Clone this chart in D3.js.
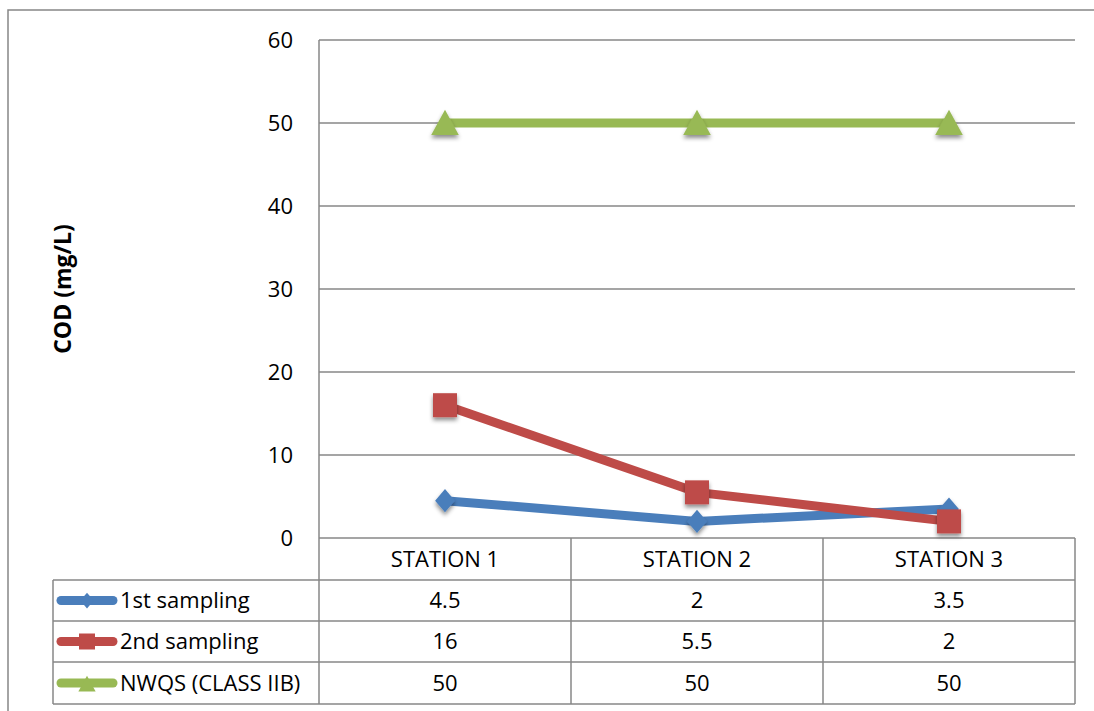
<!DOCTYPE html>
<html>
<head>
<meta charset="utf-8">
<script src="https://cdn.jsdelivr.net/npm/d3@7"></script>
<style>
  html, body { margin: 0; padding: 0; background: #fff; }
  svg { display: block; }
  text { font-family: "Open Sans", "Noto Sans", sans-serif; fill: #000; }
</style>
</head>
<body>
<svg id="chart" width="1094" height="711"></svg>
<script>
// ---- data ----
const categories = ["STATION 1", "STATION 2", "STATION 3"];
const seriesNames = ["1st sampling", "2nd sampling", "NWQS (CLASS IIB)"];
const firstSampling = [4.5, 2, 3.5];
const secondSampling = [16, 5.5, 2];
const nwqs = [50, 50, 50];
const yTicks = [0, 10, 20, 30, 40, 50, 60];
const valueLabels = [["4.5", "2", "3.5"], ["16", "5.5", "2"], ["50", "50", "50"]];

const seriesValues = [firstSampling, secondSampling, nwqs];
const colors = ["#4A7EBB", "#BE4B48", "#98B954"];
const shapes = ["diamond", "square", "triangle"];

// ---- layout ----
const svg = d3.select("#chart");
const plotLeft = 319, plotRight = 1075, plotTop = 40, plotBottom = 538;
const tableLeft = 53;
const rowEdges = [538, 580, 621, 662, 704];
const gridColor = "#878787";

const defs = svg.append("defs");
const f = defs.append("filter").attr("id", "shadow")
  .attr("x", "-50%").attr("y", "-50%").attr("width", "200%").attr("height", "200%");
f.append("feDropShadow").attr("dx", 0).attr("dy", 3).attr("stdDeviation", 2)
  .attr("flood-color", "#000").attr("flood-opacity", 0.45);

// outer border
svg.append("rect").attr("x", 8).attr("y", 10).attr("width", 1300).attr("height", 900)
  .attr("fill", "none").attr("stroke", gridColor).attr("stroke-width", 1.5);

const x = d3.scaleBand().domain(categories).range([plotLeft, plotRight]).padding(0);
const y = d3.scaleLinear().domain([0, 60]).range([plotBottom, plotTop]);

// gridlines
svg.append("g").selectAll("line").data(yTicks.filter(t => t > 0)).join("line")
  .attr("x1", plotLeft).attr("x2", plotRight)
  .attr("y1", d => y(d)).attr("y2", d => y(d))
  .attr("stroke", gridColor).attr("stroke-width", 1.5);

// y axis (labels only)
const yAxis = d3.axisLeft(y).tickValues(yTicks).tickSize(0).tickPadding(26);
const yg = svg.append("g").attr("transform", `translate(${plotLeft},0)`).call(yAxis);
yg.select(".domain").remove();
yg.selectAll("text").attr("font-size", 22).attr("font-family", '"Open Sans", sans-serif').attr("fill", "#000");

// y axis title
svg.append("text")
  .attr("transform", `translate(71, ${(plotTop + plotBottom) / 2}) rotate(-90)`)
  .attr("text-anchor", "middle")
  .attr("font-size", 23).attr("font-weight", "bold")
  .text("COD (mg/L)");

// ---- data table ----
const tbl = svg.append("g").attr("stroke", gridColor).attr("stroke-width", 1.5);
rowEdges.forEach((ry, i) => {
  tbl.append("line").attr("x1", i === 0 ? plotLeft : tableLeft).attr("x2", plotRight)
    .attr("y1", ry).attr("y2", ry);
});
tbl.append("line").attr("x1", tableLeft).attr("x2", tableLeft).attr("y1", rowEdges[1]).attr("y2", rowEdges[4]);
tbl.append("line").attr("x1", plotLeft).attr("x2", plotLeft).attr("y1", plotTop).attr("y2", rowEdges[4]);
categories.forEach(c => {
  const xr = x(c) + x.bandwidth();
  tbl.append("line").attr("x1", xr).attr("x2", xr).attr("y1", rowEdges[0]).attr("y2", rowEdges[4]);
});

// header texts
svg.append("g").selectAll("text").data(categories).join("text")
  .attr("x", d => x(d) + x.bandwidth() / 2)
  .attr("y", (rowEdges[0] + rowEdges[1]) / 2)
  .attr("dy", "0.36em")
  .attr("text-anchor", "middle").attr("font-size", 22)
  .text(d => d);

// value cells
valueLabels.forEach((row, si) => {
  const cy = (rowEdges[si + 1] + rowEdges[si + 2]) / 2;
  svg.append("g").selectAll("text").data(row).join("text")
    .attr("x", (d, i) => x(categories[i]) + x.bandwidth() / 2)
    .attr("y", cy).attr("dy", "0.36em")
    .attr("text-anchor", "middle").attr("font-size", 22)
    .text(d => d);
});

// marker path generator
function markerPath(shape, s) {
  if (shape === "diamond") return `M0,${-s * 1.05}L${s * 0.9},0L0,${s * 1.05}L${-s * 0.9},0Z`;
  if (shape === "square") return `M${-s},${-s}H${s}V${s}H${-s}Z`;
  return `M0,${-s * 1.1}L${s * 1.15},${s}L${-s * 1.15},${s}Z`;
}

// legend keys & names
seriesNames.forEach((name, si) => {
  const cy = (rowEdges[si + 1] + rowEdges[si + 2]) / 2;
  const g = svg.append("g");
  g.append("line").attr("x1", 61).attr("x2", 113).attr("y1", cy).attr("y2", cy)
    .attr("stroke", colors[si]).attr("stroke-width", 9).attr("stroke-linecap", "round");
  const ms = [7.5, 8, 7.5][si];
  g.append("path").attr("d", markerPath(shapes[si], ms))
    .attr("transform", `translate(87,${cy + (si === 2 ? 1 : 0)})`).attr("fill", colors[si]);
  g.append("text").attr("x", 120).attr("y", cy).attr("dy", "0.36em")
    .attr("font-size", 22).text(name);
});

// ---- series lines & markers ----
const line = d3.line().x((d, i) => x(categories[i]) + x.bandwidth() / 2).y(d => y(d));
seriesValues.forEach((vals, si) => {
  const g = svg.append("g");
  g.append("path").datum(vals).attr("d", line)
    .attr("fill", "none").attr("stroke", colors[si]).attr("stroke-width", 9)
    .attr("stroke-linejoin", "round");
  const ms = [11, 12, 12][si];
  g.selectAll("path.m").data(vals).join("path").attr("class", "m")
    .attr("d", markerPath(shapes[si], ms))
    .attr("transform", (d, i) => `translate(${x(categories[i]) + x.bandwidth() / 2},${y(d)})`)
    .attr("fill", colors[si]).attr("filter", "url(#shadow)");
});
</script>
</body>
</html>
